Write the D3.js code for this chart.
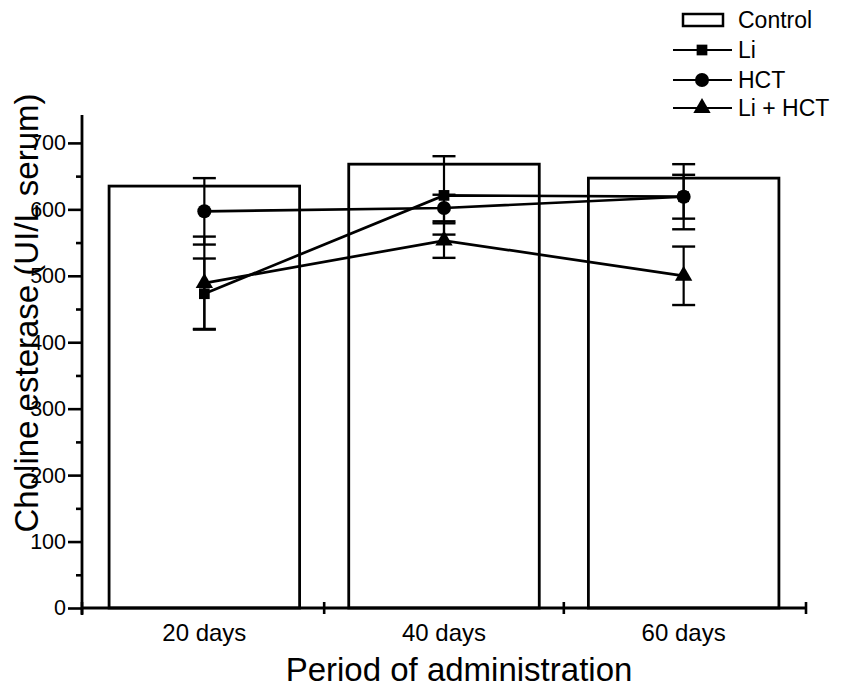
<!DOCTYPE html>
<html><head><meta charset="utf-8">
<script src="https://cdn.jsdelivr.net/npm/d3@7"></script>
<style>
html,body{margin:0;padding:0;background:#fff;}
svg{display:block;font-family:Arial,"Liberation Sans",Helvetica,sans-serif;}
</style></head>
<body>
<svg id="chart" width="841" height="689"></svg>
<script>
const categories = ["20 days", "40 days", "60 days"];
const controlValues = [635, 668, 647];
const liValues = [473, 621, 619];
const liErrors = [53, 59, 49];
const hctValues = [597, 602, 619];
const hctErrors = [50, 20, 33];
const liHctValues = [489, 553, 500];
const liHctErrors = [70, 26, 44];
const yTickValues = [0, 100, 200, 300, 400, 500, 600, 700];
const yMinorTickValues = [50, 150, 250, 350, 450, 550, 650];
const seriesNames = ["Control", "Li", "HCT", "Li + HCT"];
const xTitle = "Period of administration";
const yTitle = "Choline esterase (UI/L serum)";

const svg = d3.select("#chart");
const x0 = 82, x1 = 806, yBottom = 608, yTop = 115;

const x = d3.scaleBand().domain(categories).range([x0, x1]).paddingInner(0.205).paddingOuter(0.113);
const y = d3.scaleLinear().domain([0, 742]).range([yBottom, yTop]);
const cx = c => x(c) + x.bandwidth() / 2;

// Bars
svg.append("g").selectAll("rect").data(categories).join("rect")
  .attr("x", d => x(d)).attr("width", x.bandwidth())
  .attr("y", (d, i) => y(controlValues[i]))
  .attr("height", (d, i) => y(0) - y(controlValues[i]))
  .attr("fill", "#fff").attr("stroke", "#000").attr("stroke-width", 2.8);

// Series
const series = [
  {name: "Li", values: liValues, errors: liErrors, symbol: d3.symbolSquare, size: 115},
  {name: "HCT", values: hctValues, errors: hctErrors, symbol: d3.symbolCircle, size: 155},
  {name: "Li + HCT", values: liHctValues, errors: liHctErrors, symbol: d3.symbolTriangle, size: 130}
];

const line = d3.line().x(d => cx(d.c)).y(d => y(d.v));

series.forEach(s => {
  const pts = categories.map((c, i) => ({c, v: s.values[i], e: s.errors[i]}));
  const g = svg.append("g");
  pts.forEach(p => {
    g.append("line").attr("x1", cx(p.c)).attr("x2", cx(p.c))
      .attr("y1", y(p.v - p.e)).attr("y2", y(p.v + p.e))
      .attr("stroke", "#000").attr("stroke-width", 2.2);
    [p.v - p.e, p.v + p.e].forEach(v => {
      g.append("line").attr("x1", cx(p.c) - 11.5).attr("x2", cx(p.c) + 11.5)
        .attr("y1", y(v)).attr("y2", y(v))
        .attr("stroke", "#000").attr("stroke-width", 2.4);
    });
  });
  g.append("path").datum(pts).attr("d", line)
    .attr("fill", "none").attr("stroke", "#000").attr("stroke-width", 2.7);
  g.selectAll("path.m").data(pts).join("path").attr("class", "m")
    .attr("transform", p => `translate(${cx(p.c)},${y(p.v)})`)
    .attr("d", d3.symbol().type(s.symbol).size(s.size))
    .attr("fill", "#000");
});

// Y axis
const yAxis = d3.axisLeft(y).tickValues(yTickValues).tickSize(14).tickPadding(2).tickSizeOuter(0);
const gy = svg.append("g").attr("transform", `translate(${x0},0)`).call(yAxis);
gy.select(".domain").attr("stroke-width", 2.8).attr("d", `M0,${yTop}V${yBottom + 7}`);
gy.selectAll(".tick line").attr("stroke-width", 2.6);
gy.selectAll(".tick text").attr("font-size", 21.5).attr("fill", "#000");
const gyMinor = svg.append("g").attr("transform", `translate(${x0},0)`)
  .call(d3.axisLeft(y).tickValues(yMinorTickValues).tickSize(6).tickFormat(""));
gyMinor.select(".domain").remove();
gyMinor.selectAll(".tick line").attr("stroke-width", 2.6);

// X axis
svg.append("line").attr("x1", x0).attr("x2", x1).attr("y1", yBottom).attr("y2", yBottom)
  .attr("stroke", "#000").attr("stroke-width", 2.8);
const boundaries = [x0].concat(categories.map(c => x(c) + x.bandwidth() + x.step() * x.paddingInner() / 2));
boundaries[boundaries.length - 1] = x1;
svg.append("g").selectAll("line").data(boundaries).join("line")
  .attr("x1", d => d).attr("x2", d => d).attr("y1", yBottom - 6).attr("y2", yBottom + 6)
  .attr("stroke", "#000").attr("stroke-width", 2.6);
svg.append("g").selectAll("text").data(categories).join("text")
  .attr("x", d => cx(d)).attr("y", 641)
  .attr("text-anchor", "middle").attr("font-size", 24).text(d => d);

// Titles
svg.append("text").attr("x", 459).attr("y", 681).attr("text-anchor", "middle")
  .attr("font-size", 33).text(xTitle);
svg.append("text").attr("transform", "translate(38,313) rotate(-90)")
  .attr("text-anchor", "middle").attr("font-size", 33).text(yTitle);

// Legend
const lg = svg.append("g");
const rowY = [20, 50, 80, 108];
lg.append("rect").attr("x", 683).attr("y", rowY[0] - 6).attr("width", 40).attr("height", 12)
  .attr("fill", "#fff").attr("stroke", "#000").attr("stroke-width", 2.5);
series.forEach((s, i) => {
  const yy = rowY[i + 1];
  lg.append("line").attr("x1", 673).attr("x2", 732).attr("y1", yy).attr("y2", yy)
    .attr("stroke", "#000").attr("stroke-width", 2);
  lg.append("path").attr("transform", `translate(702,${yy})`)
    .attr("d", d3.symbol().type(s.symbol).size(s.size)).attr("fill", "#000");
});
lg.selectAll("text").data(seriesNames).join("text")
  .attr("x", 738).attr("y", (d, i) => rowY[i]).attr("dy", "0.36em")
  .attr("font-size", 23).text(d => d);
</script>
</body></html>
